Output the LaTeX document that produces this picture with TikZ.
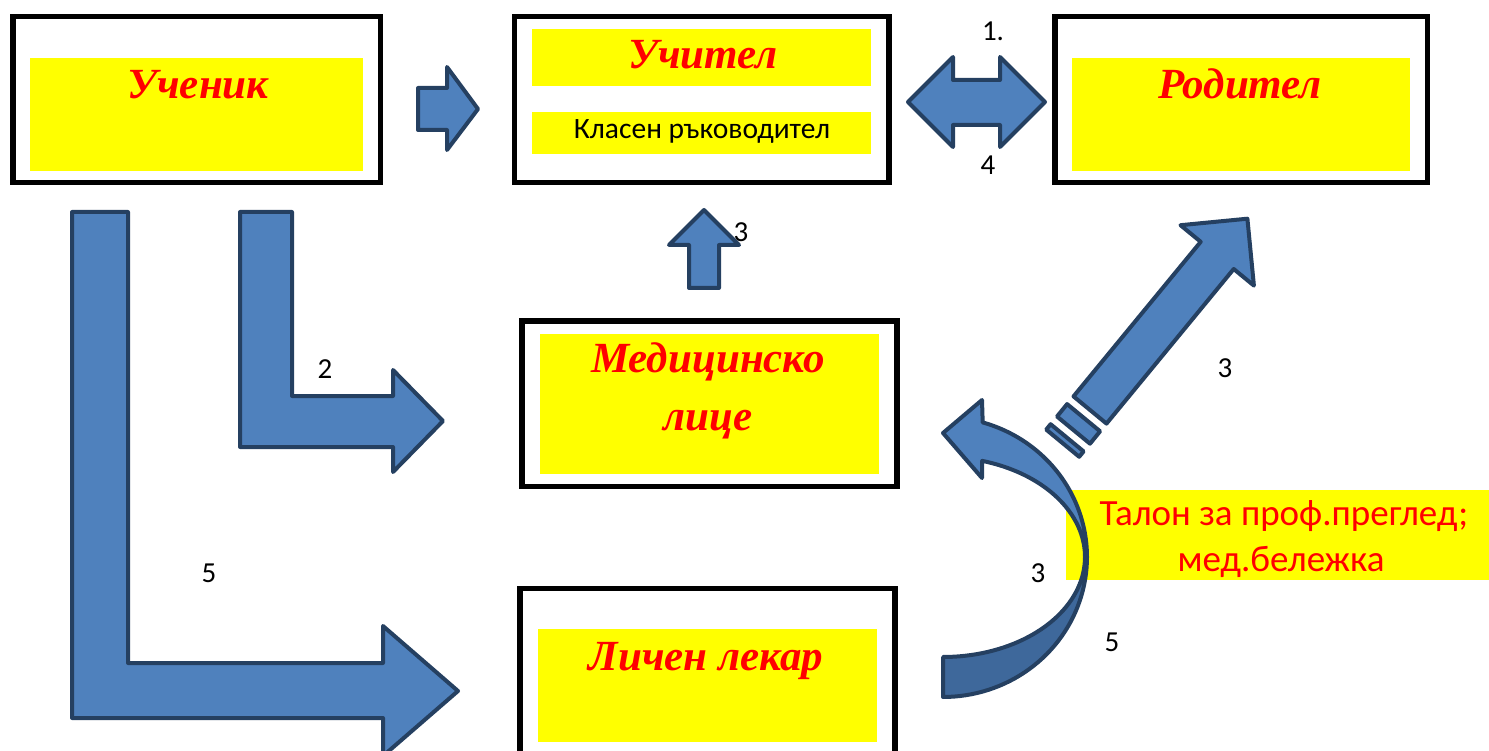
\documentclass[tikz,border=0pt]{standalone}
\usepackage{fontspec}
\setmainfont{Carlito}
\newfontfamily\titlefont{Liberation Serif}
\definecolor{arrowfill}{RGB}{79,129,189}
\definecolor{arrowline}{RGB}{37,64,97}
\definecolor{arrowdark}{RGB}{62,104,155}
\definecolor{pureyellow}{RGB}{255,255,0}
\definecolor{purered}{RGB}{255,0,0}
\tikzset{
  frame/.style={draw=black, line width=5.5pt, inner sep=0pt, fill=white},
  ybox/.style={fill=pureyellow, draw=none},
  blockarrow/.style={fill=arrowfill, draw=arrowline, line width=4pt, line join=round},
  title/.style={text=purered, font=\titlefont\bfseries\itshape\fontsize{43}{50}\selectfont, anchor=base, inner sep=0pt},
  plain/.style={text=black, font=\fontsize{29.5}{32}\selectfont, anchor=base, inner sep=0pt},
  num/.style={text=black, font=\fontsize{29}{32}\selectfont, inner sep=0pt},
  note/.style={text=purered, font=\fontsize{37}{40}\selectfont, anchor=base, inner sep=0pt},
}
\begin{document}
\begin{tikzpicture}[x=1pt,y=-1pt]
\clip (0,0) rectangle (1489,751);
\useasboundingbox (0,0) rectangle (1489,751);

% frames
\node[frame, minimum width=367.5pt, minimum height=166pt] (uchenik) at (196.75,99.5) {};
\node[frame, minimum width=374.5pt, minimum height=166pt] (uchitel) at (701.75,99.5) {};
\node[frame, minimum width=372.5pt, minimum height=166pt] (roditel) at (1241.25,99.5) {};
\node[frame, minimum width=375pt, minimum height=165.5pt] (medlice) at (709.5,403.75) {};
\node[frame, minimum width=375pt, minimum height=211.5pt] (lekar) at (707.5,694.25) {};

% yellow fields
\fill[ybox] (30,58) rectangle (363,171);
\fill[ybox] (532,29) rectangle (871,86);
\fill[ybox] (532,112) rectangle (871,154);
\fill[ybox] (1072,58) rectangle (1410,171);
\fill[ybox] (540,334) rectangle (879,474);
\fill[ybox] (538,629) rectangle (877,742);
\fill[ybox] (1066,490) rectangle (1489,580);

% texts
\node[title] (tuchenik) at (198,99) {Ученик};
\node[title] (tuchitel) at (703,69) {Учител};
\node[plain] (tklasen) at (702,139) {Класен ръководител};
\node[title] (troditel) at (1240,99) {Родител};
\node[title] (tmed1) at (708,373) {Медицинско};
\node[title] (tmed2) at (708,430) {лице};
\node[title] (tlekar) at (706,670) {Личен лекар};
\node[note] (talon1) at (1284,525) {Талон за проф.преглед;};
\node[note] (talon2) at (1281,571) {мед.бележка};

% block arrows
\filldraw[blockarrow] (418,88) -- (447,88) -- (447,67) -- (478,109) -- (447,150) -- (447,130) -- (418,130) -- cycle;
\filldraw[blockarrow] (908,102) -- (953,57) -- (953,80) -- (1000,80) -- (1000,57) -- (1045,102)
   -- (1000,147) -- (1000,125) -- (953,125) -- (953,147) -- cycle;
\filldraw[blockarrow] (704,210) -- (739,245) -- (719,245) -- (719,288) -- (689,288) -- (689,245) -- (669,245) -- cycle;
\filldraw[blockarrow] (240,212) -- (292,212) -- (292,396) -- (393,396) -- (393,370) -- (443,421)
   -- (393,472) -- (393,447) -- (240,447) -- cycle;
\filldraw[blockarrow] (72,212) -- (128,212) -- (128,663) -- (383,663) -- (383,626) -- (458,691)
   -- (383,756) -- (383,718) -- (72,718) -- cycle;

% curved arrow
\filldraw[blockarrow] plot[domain=74:0, samples=40] ({943+144*cos(\x)},{557-140*sin(\x)})
   -- plot[domain=0:74, samples=40] ({943+142*cos(\x)},{557-100*sin(\x)})
   -- (982,478) -- (943,433) -- (982,400) -- cycle;
\filldraw[blockarrow, fill=arrowdark] plot[domain=0:-90, samples=40] ({943+144*cos(\x)},{557-140*sin(\x)})
   -- plot[domain=-90:0, samples=40] ({943+142*cos(\x)},{557-100*sin(\x)}) -- cycle;

% striped diagonal arrow
\filldraw[blockarrow] (1073.5,396.4) -- (1200.7,241.8) -- (1180.5,225.2) -- (1247.4,218.7)
   -- (1253.9,285.6) -- (1233.7,269.0) -- (1106.5,423.6) -- cycle;
\filldraw[blockarrow] (1067.1,404.1) -- (1100.1,431.3) -- (1090.0,443.7) -- (1057.0,416.5) -- cycle;
\filldraw[blockarrow] (1050.6,424.2) -- (1083.6,451.4) -- (1079.2,456.8) -- (1046.2,429.6) -- cycle;

% numbers
\node[num] (n1) at (993,31) {1.};
\node[num] (n4) at (988,165) {4};
\node[num] (n3a) at (741,232) {3};
\node[num] (n2) at (325,369) {2};
\node[num] (n5a) at (209,573) {5};
\node[num] (n3b) at (1225,368) {3};
\node[num] (n3c) at (1038,573) {3};
\node[num] (n5b) at (1112,642) {5};
\end{tikzpicture}
\end{document}
